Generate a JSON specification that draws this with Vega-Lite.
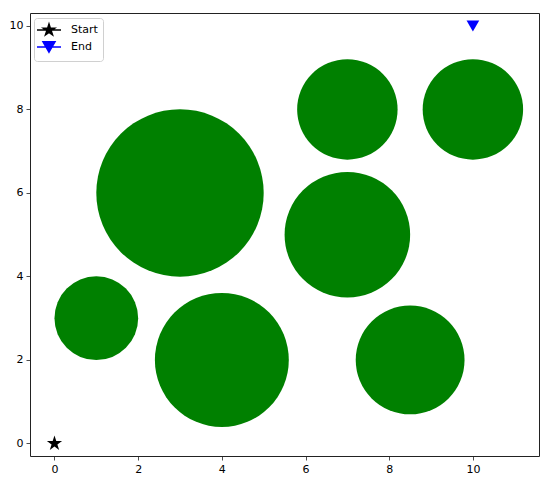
{
  "$schema": "https://vega.github.io/schema/vega-lite/v6.json",
  "autosize": "none",
  "width": 509,
  "height": 443,
  "padding": {"left": 30, "top": 13, "right": 11, "bottom": 30},
  "background": "white",
  "config": {
    "font": "DejaVu Sans",
    "view": {"stroke": "#222", "strokeWidth": 1},
    "axis": {
      "domain": false, "grid": false,
      "tickColor": "#222", "tickSize": 4, "tickWidth": 0.8,
      "labelColor": "black", "labelFontSize": 11, "labelPadding": 3, "labelFont": "DejaVu Sans",
      "title": null
    }
  },
  "datasets": {
    "obstacles": [
      {"x": 3, "y": 6, "r": 2},
      {"x": 1, "y": 3, "r": 1},
      {"x": 4, "y": 2, "r": 1.6},
      {"x": 7, "y": 8, "r": 1.2},
      {"x": 10, "y": 8, "r": 1.2},
      {"x": 7, "y": 5, "r": 1.5},
      {"x": 8.5, "y": 2, "r": 1.3}
    ],
    "endpoints": [
      {"label": "Start", "x": 0, "y": 0},
      {"label": "End", "x": 10, "y": 10}
    ]
  },
  "encoding": {
    "x": {"field": "x", "type": "quantitative",
      "scale": {"domain": [-0.585, 11.58], "nice": false, "zero": false},
      "axis": {"values": [0, 2, 4, 6, 8, 10], "title": null}},
    "y": {"field": "y", "type": "quantitative",
      "scale": {"domain": [-0.3, 10.31], "nice": false, "zero": false},
      "axis": {"values": [0, 2, 4, 6, 8, 10], "title": null}}
  },
  "layer": [
    {
      "data": {"name": "obstacles"},
      "mark": {"type": "point", "shape": "circle", "filled": true, "color": "#008000", "opacity": 1, "strokeWidth": 0},
      "encoding": {
        "size": {"field": "r", "type": "quantitative",
          "scale": {"type": "pow", "exponent": 2, "domain": [0, 2], "range": [0, 28023]},
          "legend": null}
      }
    },
    {
      "data": {"name": "endpoints"},
      "transform": [{"filter": "datum.label === 'Start'"}],
      "mark": {"type": "point", "filled": true, "color": "black", "opacity": 1, "size": 256,
        "shape": "M0,-1L0.2245,-0.309L0.9511,-0.309L0.3633,0.118L0.5878,0.809L0,0.382L-0.5878,0.809L-0.3633,0.118L-0.9511,-0.309L-0.2245,-0.309Z"},
      "encoding": {}
    },
    {
      "data": {"name": "endpoints"},
      "transform": [{"filter": "datum.label === 'End'"}],
      "mark": {"type": "point", "filled": true, "color": "blue", "opacity": 1, "size": 161, "shape": "triangle-down"},
      "encoding": {}
    },
    {
      "data": {"name": "endpoints"},
      "mark": {"type": "point", "filled": true, "opacity": 0},
      "encoding": {
        "fill": {"field": "label", "type": "nominal",
          "scale": {"domain": ["Start", "End"], "range": ["black", "blue"]},
          "legend": {"title": null}},
        "stroke": {"field": "label", "type": "nominal",
          "scale": {"domain": ["Start", "End"], "range": ["black", "blue"]},
          "legend": {"title": null}},
        "shape": {"field": "label", "type": "nominal",
          "scale": {"domain": ["Start", "End"], "range": [
            "M-2,0H2M0,-1L0.2245,-0.309L0.9511,-0.309L0.3633,0.118L0.5878,0.809L0,0.382L-0.5878,0.809L-0.3633,0.118L-0.9511,-0.309L-0.2245,-0.309Z",
            "M-2,0H2M0,0.866L1,-0.866L-1,-0.866Z"]},
          "legend": {
            "title": null, "orient": "none", "legendX": 4, "legendY": 5,
            "symbolSize": 144, "symbolOpacity": 1, "symbolStrokeWidth": 1.5,
            "labelFontSize": 11, "labelFont": "DejaVu Sans", "labelColor": "black",
            "labelOffset": 15, "rowPadding": 0, "padding": 5,
            "fillColor": "white", "strokeColor": "#d0d0d0", "cornerRadius": 3,
            "symbolOffset": 3
          }}
      }
    }
  ]
}
